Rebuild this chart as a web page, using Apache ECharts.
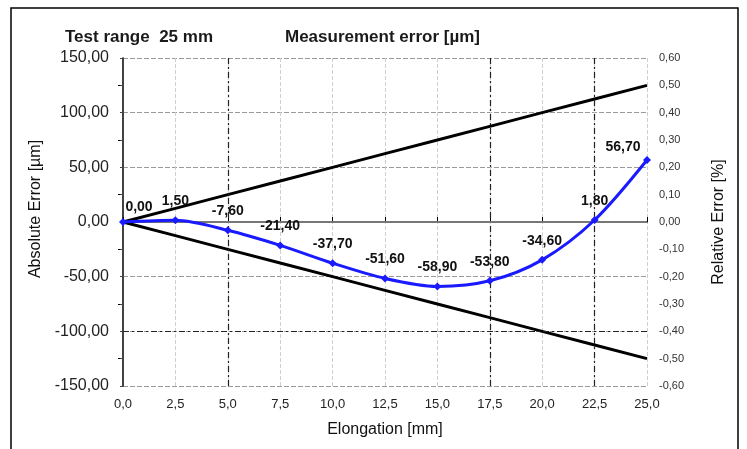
<!DOCTYPE html>
<html><head><meta charset="utf-8">
<script src="https://cdn.jsdelivr.net/npm/echarts@6/dist/echarts.min.js"></script>
<style>html,body{margin:0;padding:0;background:#fff}#c{width:747px;height:449px}</style>
</head><body><div id="c"></div>
<script>
var elongation = [0, 2.5, 5, 7.5, 10, 12.5, 15, 17.5, 20, 22.5, 25];
var absError = [0.00, 1.50, -7.60, -21.40, -37.70, -51.60, -58.90, -53.80, -34.60, 1.80, 56.70];
var upperLimit = [0, 12.5, 25, 37.5, 50, 62.5, 75, 87.5, 100, 112.5, 125];
var lowerLimit = [0, -12.5, -25, -37.5, -50, -62.5, -75, -87.5, -100, -112.5, -125];
var titleLeft = 'Test range  25 mm';
var titleMain = 'Measurement error [µm]';

var F = 'Liberation Sans, Arial, sans-serif';
function comma(v, d){ return v.toFixed(d).replace('.', ','); }
function pairs(ys){ return elongation.map(function(x,i){ return [x, ys[i]]; }); }

var blueData = elongation.map(function(x,i){
  var item = { value: [x, absError[i]] };
  if (i === 0) item.label = { offset: [16, 4] };
  if (i === elongation.length - 1) item.label = { offset: [-24, 6] };
  return item;
});

var chart = echarts.init(document.getElementById('c'));
chart.setOption({
  animation: false,
  backgroundColor: '#fff',
  textStyle: { fontFamily: F },
  title: [
    { text: titleLeft, left: 60, top: 24, textStyle: { fontSize: 17, fontWeight: 'bold', color: '#1a1a1a', fontFamily: F } },
    { text: titleMain, left: 280, top: 24, textStyle: { fontSize: 17, fontWeight: 'bold', color: '#1a1a1a', fontFamily: F } }
  ],
  graphic: [
    { type: 'rect', shape: { x: 11, y: 8, width: 727, height: 470 }, style: { fill: 'none', stroke: '#000', lineWidth: 1.5 }, silent: true }
  ],
  grid: { left: 123, right: 100, top: 58, bottom: 63 },
  xAxis: [{
    type: 'value', min: 0, max: 25, interval: 2.5,
    name: 'Elongation [mm]', nameLocation: 'middle', nameGap: 36,
    nameTextStyle: { fontSize: 16, color: '#111', fontFamily: F },
    axisLine: { show: false },
    axisTick: { show: true, inside: true, length: 5, lineStyle: { color: '#000' } },
    axisLabel: { fontSize: 13, color: '#222', margin: 12, formatter: function(v){ return comma(v,1); } },
    splitLine: { show: true, lineStyle: { color: '#cfcfcf', type: 'dashed', width: 1 } }
  }, {
    type: 'value', min: 0, max: 25, interval: 2.5, position: 'top',
    axisLine: { show: true, lineStyle: { color: '#000', width: 1.5 } },
    axisTick: { show: false }, axisLabel: { show: false }, splitLine: { show: false }
  }],
  yAxis: [{
    type: 'value', min: -150, max: 150, interval: 50,
    name: 'Absolute Error [µm]', nameLocation: 'middle', nameGap: 78, nameRotate: 90,
    nameTextStyle: { fontSize: 16, color: '#111', fontFamily: F, padding: [0, 0, 0, 26] },
    axisLine: { show: true, lineStyle: { color: '#000', width: 1.5 } },
    axisTick: { show: false },
    minorTick: { show: true, splitNumber: 2, length: 5, lineStyle: { color: '#000' } },
    axisLabel: { fontSize: 16, color: '#222', margin: 14, formatter: function(v){ return comma(v,2); } },
    splitLine: { show: true, lineStyle: { color: '#9a9a9a', type: [5, 2], width: 1.2 } }
  }, {
    type: 'value', min: -0.6, max: 0.6, interval: 0.1, position: 'right',
    name: 'Relative Error [%]', nameLocation: 'middle', nameGap: 64, nameRotate: 90,
    nameTextStyle: { fontSize: 16, color: '#111', fontFamily: F, padding: [0, 0, 26, 0] },
    axisLine: { show: true, lineStyle: { color: '#444', width: 1 } },
    axisTick: { show: true, length: 3, inside: true, lineStyle: { color: '#444' } },
    axisLabel: { fontSize: 11, color: '#333', margin: 12, formatter: function(v){ return comma(v,2); } },
    splitLine: { show: false }
  }],
  series: [
    { type: 'line', data: pairs(upperLimit), showSymbol: false, symbol: 'none',
      lineStyle: { color: '#000', width: 3 }, z: 3 },
    { type: 'line', data: pairs(lowerLimit), showSymbol: false, symbol: 'none',
      lineStyle: { color: '#000', width: 3 }, z: 3,
      markLine: { silent: true, symbol: 'none', label: { show: false },
        lineStyle: { color: '#222', type: [6, 3, 2, 3], width: 1.2 },
        data: [ { xAxis: 5 }, { xAxis: 17.5 }, { xAxis: 22.5 }, { yAxis: -100 } ] } },
    { type: 'line', data: blueData, smooth: 0.3,
      symbol: 'diamond', symbolSize: 8,
      itemStyle: { color: '#1a1aff' },
      lineStyle: { color: '#1a1aff', width: 3 }, z: 5,
      label: { show: true, position: 'top', distance: 8, fontSize: 14, fontWeight: 'bold', color: '#111', fontFamily: F,
        formatter: function(p){ return comma(p.value[1], 2); } },
      markLine: { silent: true, symbol: 'none', label: { show: false },
        lineStyle: { color: '#777', type: 'solid', width: 2 },
        data: [ { yAxis: 0 } ] } }
  ]
});
</script></body></html>
